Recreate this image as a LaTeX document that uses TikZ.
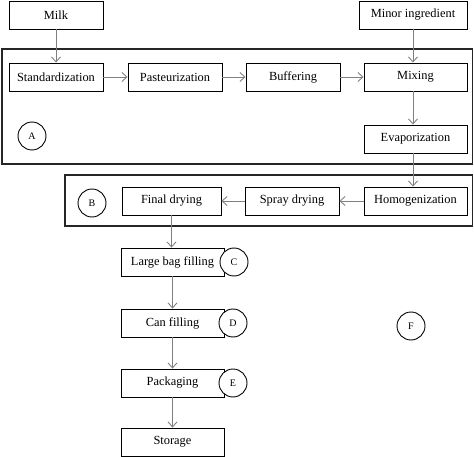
\documentclass[tikz,border=0pt]{standalone}
\usepackage{fontspec}
\setmainfont{Liberation Serif}
\usetikzlibrary{arrows.meta}
\begin{document}
\begin{tikzpicture}[x=1pt,y=-1pt,
  box/.style={draw=black,line width=0.9pt,rectangle,minimum height=28pt,inner sep=0pt,font=\fontsize{12.4}{14}\selectfont,fill=white},
  frame/.style={draw=black!85,line width=1.4pt},
  lbl/.style={draw=black,line width=0.9pt,circle,minimum size=28pt,inner sep=0pt,fill=white,font=\fontsize{10}{12}\selectfont},
  arr/.style={draw=black!50,line width=0.9pt,-{Straight Barb[length=5pt,width=9pt]}}]
\useasboundingbox (0,0) rectangle (474,457);
% frames
\draw[frame] (2,49) rectangle (472.5,164);
\draw[frame] (65,175) rectangle (472.5,226);
% nodes
\node[box,minimum width=94pt] (milk) at (56,15) {Milk};
\node[box,minimum width=108pt] (minor) at (413,15) {Minor ingredient};
\node[box,minimum width=94pt] (std) at (56,77) {Standardization};
\node[box,minimum width=94pt] (past) at (175,77) {Pasteurization};
\node[box,minimum width=94pt] (buf) at (293,77) {Buffering};
\node[box,minimum width=103pt] (mix) at (415.5,77) {Mixing};
\node[box,minimum width=103pt] (evap) at (415.5,139) {Evaporization};
\node[box,minimum width=103pt] (homo) at (415.5,201) {Homogenization};
\node[box,minimum width=94pt] (spray) at (292,201) {Spray drying};
\node[box,minimum width=99pt] (final) at (171.5,201) {Final drying};
\node[box,minimum width=103pt] (bag) at (172.5,262) {Large bag filling};
\node[box,minimum width=103pt] (can) at (172.5,323) {Can filling};
\node[box,minimum width=103pt] (pack) at (172.5,383) {Packaging};
\node[box,minimum width=103pt] (store) at (172.5,442) {Storage};
% labels
\node[lbl] (la) at (32,136) {A};
\node[lbl] (lb) at (92,203) {B};
\node[lbl] (lc) at (234,262) {C};
\node[lbl] (ld) at (233,323) {D};
\node[lbl] (le) at (233,383) {E};
\node[lbl] (lf) at (411,326) {F};
% arrows
\coordinate (minx) at (413,0);
\draw[arr] (milk.south) -- (std.north);
\draw[arr] (minor.south) -- (minor.south |- mix.north);
\draw[arr] (std.east) -- (past.west);
\draw[arr] (past.east) -- (buf.west);
\draw[arr] (buf.east) -- (mix.west);
\draw[arr] (minx |- mix.south) -- (minx |- evap.north);
\draw[arr] (minx |- evap.south) -- (minx |- homo.north);
\draw[arr] (homo.west) -- (spray.east);
\draw[arr] (spray.west) -- (final.east);
\draw[arr] (final.south) -- (final.south |- bag.north);
\draw[arr] (bag.south) -- (can.north);
\draw[arr] (can.south) -- (pack.north);
\draw[arr] (pack.south) -- (store.north);
\end{tikzpicture}
\end{document}
